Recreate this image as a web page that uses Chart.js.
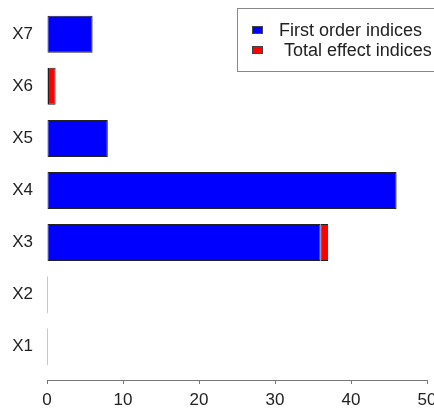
<!DOCTYPE html>
<html>
<head>
<meta charset="utf-8">
<script src="https://cdn.jsdelivr.net/npm/chart.js@4"></script>
<style>
  html, body { margin: 0; padding: 0; background: #fff; overflow: hidden; }
  #wrap { width: 434px; height: 408px; overflow: hidden; }
</style>
</head>
<body>
<div id="wrap"><canvas id="chart" width="470" height="408"></canvas></div>
<script>
// data
const labels = ['X1', 'X2', 'X3', 'X4', 'X5', 'X6', 'X7'];
const firstOrder = [0, 0, 36, 46, 8, 0, 6];
const totalEffect = [0, 0, 1, 0, 0, 1, 0];
const xTicks = [0, 10, 20, 30, 40, 50];
const seriesNames = ['First order indices', ' Total effect indices'];
const seriesColors = ['#0000ff', '#ff0000'];

const FONT = { family: '"Liberation Sans", Arial, sans-serif', size: 17 };

// zero-width bars show up in R only as their dark outline
const fillOrEdge = col => c => (c.raw && c.raw.x === 0 ? '#555' : col);

// R style legend box, partly cut off at the right edge
const legendBox = {
    id: 'legendBox',
    afterDraw(chart) {
        const c = chart.ctx;
        c.save();
        c.strokeStyle = '#888';
        c.lineWidth = 1;
        c.strokeRect(237.5, 8.5, 215, 63);
        c.font = '18px ' + FONT.family;
        c.textBaseline = 'middle';
        seriesNames.forEach((name, i) => {
            const y = 30 + i * 20;
            c.fillStyle = seriesColors[i];
            c.fillRect(252, y - 4, 11, 8);
            c.strokeStyle = '#444';
            c.strokeRect(252.5, y - 3.5, 10, 7);
            c.fillStyle = '#222';
            c.fillText(name, 279, y + 1);
        });
        c.restore();
    }
};

const ctx = document.getElementById('chart').getContext('2d');
// eslint-disable-next-line no-undef
new Chart(ctx, {
    type: 'bar',
    data: {
        datasets: [{
            label: seriesNames[0],
            data: labels.map((l, i) => ({ x: firstOrder[i], y: i + 1 })),
            backgroundColor: fillOrEdge(seriesColors[0]),
            borderColor: '#222',
            borderWidth: 1,
            borderSkipped: false,
            minBarLength: 1,
            grouped: false,
            categoryPercentage: 1,
            barPercentage: 0.71
        }, {
            label: seriesNames[1],
            data: labels.map((l, i) => ({ x: totalEffect[i], y: i + 1 })),
            backgroundColor: seriesColors[1],
            borderColor: '#222',
            borderWidth: 1,
            borderSkipped: false,
            grouped: false,
            categoryPercentage: 1,
            barPercentage: 0.71
        }]
    },
    options: {
        indexAxis: 'y',
        responsive: false,
        animation: false,
        devicePixelRatio: 1,
        layout: { padding: { top: 0, left: 0, right: 43, bottom: 0 } },
        plugins: {
            legend: { display: false },
            tooltip: { enabled: false }
        },
        scales: {
            x: {
                type: 'linear',
                stacked: true,
                min: 0,
                max: 50,
                afterBuildTicks: s => { s.ticks = xTicks.map(v => ({ value: v })); },
                afterFit: s => { s.height = 28; s.paddingLeft = 0; s.paddingRight = 0; },
                border: { display: true, color: '#777', width: 1 },
                grid: { display: true, drawOnChartArea: false, drawTicks: true, tickLength: 4, color: '#777' },
                ticks: { color: '#222', font: FONT, padding: 6, maxRotation: 0 }
            },
            y: {
                type: 'linear',
                offset: false,
                min: 0.363,
                max: 7.656,
                afterBuildTicks: s => { s.ticks = labels.map((l, i) => ({ value: i + 1 })); },
                afterFit: s => { s.width = 47; s.paddingTop = 0; s.paddingBottom = 0; },
                border: { display: false },
                grid: { display: false, drawTicks: false, offset: false },
                ticks: {
                    color: '#222',
                    font: FONT,
                    padding: 14,
                    callback: v => labels[v - 1]
                }
            }
        }
    },
    plugins: [legendBox]
});
</script>
</body>
</html>
